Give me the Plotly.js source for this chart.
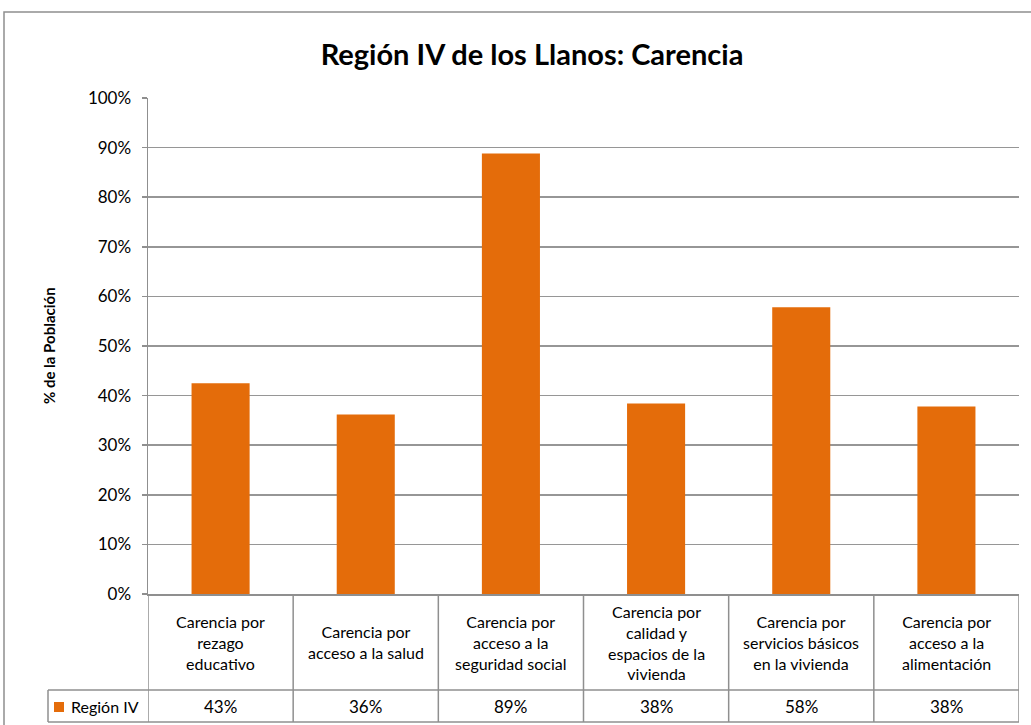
<!DOCTYPE html>
<html>
<head>
<meta charset="utf-8">
<script src="https://cdn.plot.ly/plotly-3.0.1.min.js"></script>
<style>html,body{margin:0;padding:0;background:#fff;}#chart{width:1031px;height:725px;}</style>
</head>
<body>
<div id="chart"></div>
<script>
var categories = [
  "Carencia por<br>rezago<br>educativo",
  "Carencia por<br>acceso a la salud",
  "Carencia por<br>acceso a la<br>seguridad social",
  "Carencia por<br>calidad y<br>espacios de la<br>vivienda",
  "Carencia por<br>servicios básicos<br>en la vivienda",
  "Carencia por<br>acceso a la<br>alimentación"
];
var values = [42.5, 36.2, 88.8, 38.4, 57.8, 37.8];
var seriesName = "Región IV";
var yTickVals = [0, 10, 20, 30, 40, 50, 60, 70, 80, 90, 100];
var yTickText = ["0%", "10%", "20%", "30%", "40%", "50%", "60%", "70%", "80%", "90%", "100%"];

var W = 1031, H = 725;
var L = 148, R = 12, T = 98, B = 131;
var plotW = W - L - R, plotH = H - T - B;
function px2x(p) { return (p - L) / plotW; }
function py2y(p) { return (H - B - p) / plotH; }

var orange = "#E46C0A";
var lineCol = "#8f8f8f";
var font = "Lato, 'Open Sans', sans-serif";
var xIdx = categories.map(function (c, i) { return i; });

var trace = {
  type: "bar",
  x: xIdx,
  y: values,
  name: seriesName,
  marker: { color: orange },
  width: 0.4,
  hoverinfo: "skip",
  showlegend: false
};

var annotations = [];
var shapes = [];

categories.forEach(function (c, i) {
  annotations.push({
    xref: "x", yref: "paper", x: i, y: py2y(642),
    text: c, showarrow: false, xanchor: "center", yanchor: "middle",
    align: "center", font: { family: font, size: 16, color: "#000" }
  });
  annotations.push({
    xref: "x", yref: "paper", x: i, y: py2y(706),
    text: Math.round(values[i]) + "%", showarrow: false,
    xanchor: "center", yanchor: "middle",
    font: { family: font, size: 17, color: "#000" }
  });
});

// legend cell text
annotations.push({
  xref: "paper", yref: "paper", x: px2x(69), y: py2y(706),
  text: seriesName, showarrow: false, xanchor: "left", yanchor: "middle",
  font: { family: font, size: 16, color: "#000" }
});
// y axis title
annotations.push({
  xref: "paper", yref: "paper", x: px2x(49), y: py2y(346),
  text: "<b>% de la Población</b>", showarrow: false, textangle: -90,
  xanchor: "center", yanchor: "middle",
  font: { family: font, size: 15, color: "#000" }
});

// outer frame
shapes.push({
  type: "rect", xref: "paper", yref: "paper",
  x0: px2x(4), x1: px2x(1100), y0: py2y(12), y1: py2y(800),
  line: { color: lineCol, width: 1.5 }, fillcolor: "rgba(0,0,0,0)", layer: "below"
});
// table horizontal lines
[690, 722].forEach(function (p) {
  shapes.push({
    type: "line", xref: "paper", yref: "paper",
    x0: px2x(48), x1: 1, y0: py2y(p), y1: py2y(p),
    line: { color: lineCol, width: 1.5 }
  });
});
// table vertical lines at category boundaries
for (var k = -1; k < categories.length; k++) {
  shapes.push({
    type: "line", xref: "x", yref: "paper",
    x0: k + 0.5, x1: k + 0.5, y0: 0, y1: py2y(722),
    line: { color: lineCol, width: 1.5 }
  });
}
// legend cell left edge
shapes.push({
  type: "line", xref: "paper", yref: "paper",
  x0: px2x(48), x1: px2x(48), y0: py2y(690), y1: py2y(722),
  line: { color: lineCol, width: 1.5 }
});
// legend key square
shapes.push({
  type: "rect", xref: "paper", yref: "paper",
  x0: px2x(54), x1: px2x(64), y0: py2y(702), y1: py2y(712),
  line: { width: 0 }, fillcolor: orange
});

var layout = {
  width: W, height: H,
  margin: { l: L, r: R, t: T, b: B, pad: 0 },
  paper_bgcolor: "#fff", plot_bgcolor: "#fff",
  font: { family: font, size: 16, color: "#000" },
  title: {
    text: "<b>Región IV de los Llanos: Carencia</b>",
    x: 532 / W, xanchor: "center", xref: "container",
    y: 1 - 55 / H, yanchor: "middle", yref: "container",
    font: { family: font, size: 29, color: "#000" }
  },
  showlegend: false,
  xaxis: {
    range: [-0.5, categories.length - 0.5],
    showticklabels: false, showgrid: false, zeroline: false,
    showline: true, linecolor: lineCol, linewidth: 1.5,
    ticks: "", fixedrange: true
  },
  yaxis: {
    range: [0, 100],
    tickvals: yTickVals, ticktext: yTickText,
    showgrid: true, gridcolor: "#969696", gridwidth: 1.5,
    zeroline: false,
    showline: true, linecolor: lineCol, linewidth: 1.5,
    ticks: "outside", ticklen: 5, tickcolor: lineCol, tickwidth: 1.5,
    ticklabelstandoff: 7,
    tickfont: { family: font, size: 17, color: "#000" },
    fixedrange: true
  },
  annotations: annotations,
  shapes: shapes
};

Plotly.newPlot("chart", [trace], layout, { displayModeBar: false, staticPlot: true });
</script>
</body>
</html>
